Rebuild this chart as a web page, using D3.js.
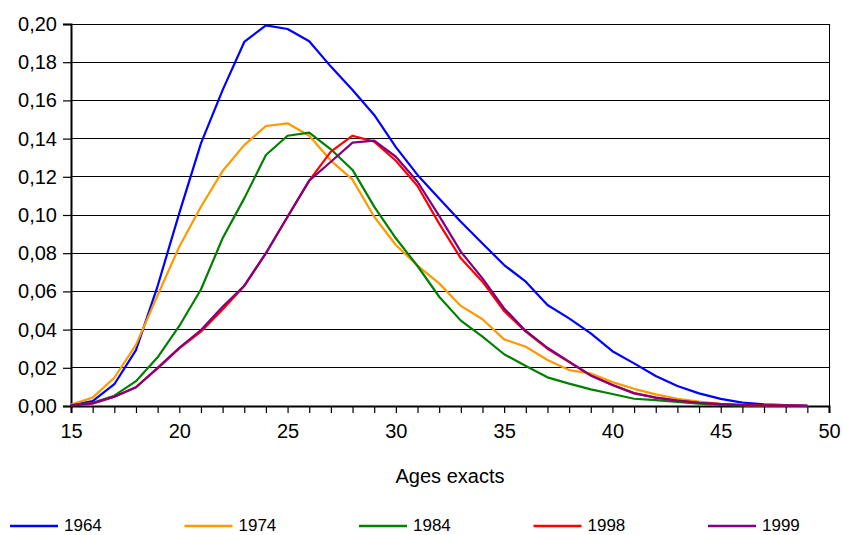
<!DOCTYPE html>
<html>
<head>
<meta charset="utf-8">
<script src="https://cdn.jsdelivr.net/npm/d3@7"></script>
<style>
  body { margin: 0; background: #fff; }
  text { font-family: "Liberation Sans", Arial, Helvetica, sans-serif; fill: #000; }
</style>
</head>
<body>
<div id="chart"></div>
<script>
// ages 15..49
var ages = [15, 16, 17, 18, 19, 20, 21, 22, 23, 24, 25, 26, 27, 28, 29, 30, 31, 32,
  33, 34, 35, 36, 37, 38, 39, 40, 41, 42, 43, 44, 45, 46, 47, 48, 49];

var years = ["1964", "1974", "1984", "1998", "1999"];
var colors = ["#0000ff", "#ff9900", "#008000", "#ff0000", "#800080"];

var v1964 = [0.0005, 0.0026, 0.0114, 0.0293, 0.0628, 0.1010, 0.1375, 0.1654, 0.1906, 0.1993,
  0.1974, 0.1910, 0.1777, 0.1654, 0.1524, 0.1355, 0.1210, 0.1087, 0.0965, 0.0851,
  0.0738, 0.0651, 0.0529, 0.0459, 0.0380, 0.0287, 0.0223, 0.0157, 0.0105, 0.0066,
  0.0037, 0.0018, 0.0009, 0.0005, 0.0002];
var v1974 = [0.0008, 0.0044, 0.0148, 0.0320, 0.0580, 0.0834, 0.1043, 0.1230, 0.1366, 0.1466,
  0.1480, 0.1415, 0.1285, 0.1185, 0.0991, 0.0843, 0.0735, 0.0642, 0.0524, 0.0454,
  0.0349, 0.0310, 0.0241, 0.0188, 0.0170, 0.0125, 0.0090, 0.0061, 0.0038, 0.0023,
  0.0011, 0.0006, 0.0003, 0.0002, 0.0001];
var v1984 = [0.0005, 0.0017, 0.0054, 0.0130, 0.0255, 0.0419, 0.0610, 0.0878, 0.1087, 0.1314,
  0.1415, 0.1431, 0.1344, 0.1236, 0.1044, 0.0878, 0.0733, 0.0572, 0.0447, 0.0363,
  0.0271, 0.0209, 0.0150, 0.0117, 0.0087, 0.0063, 0.0038, 0.0031, 0.0021, 0.0012,
  0.0006, 0.0003, 0.0001, 0.0001, 0.0000];
var v1998 = [0.0003, 0.0014, 0.0049, 0.0098, 0.0197, 0.0302, 0.0389, 0.0505, 0.0628, 0.0800,
  0.0991, 0.1180, 0.1332, 0.1415, 0.1384, 0.1284, 0.1152, 0.0955, 0.0773, 0.0651,
  0.0497, 0.0389, 0.0300, 0.0230, 0.0160, 0.0110, 0.0068, 0.0044, 0.0028, 0.0017,
  0.0010, 0.0005, 0.0003, 0.0002, 0.0001];
var v1999 = [0.0003, 0.0014, 0.0049, 0.0098, 0.0200, 0.0305, 0.0398, 0.0520, 0.0630, 0.0800,
  0.0991, 0.1180, 0.1279, 0.1379, 0.1389, 0.1305, 0.1174, 0.0995, 0.0808, 0.0668,
  0.0511, 0.0393, 0.0305, 0.0232, 0.0160, 0.0110, 0.0066, 0.0044, 0.0028, 0.0017,
  0.0010, 0.0005, 0.0003, 0.0002, 0.0001];

var yTicks = [0, 0.02, 0.04, 0.06, 0.08, 0.10, 0.12, 0.14, 0.16, 0.18, 0.20];
var xTicks = [15, 20, 25, 30, 35, 40, 45, 50];

var seriesValues = [v1964, v1974, v1984, v1998, v1999];

var width = 842, height = 535;
var margin = {top: 24, left: 71, right: 13, bottom: 129};
var plotW = width - margin.left - margin.right;
var plotH = height - margin.top - margin.bottom;

var svg = d3.select("#chart").append("svg")
  .attr("width", width)
  .attr("height", height);

var g = svg.append("g")
  .attr("transform", "translate(" + margin.left + "," + margin.top + ")");

var x = d3.scaleLinear().domain([15, 50]).range([0, plotW]);
var y = d3.scaleLinear().domain([0, 0.2]).range([plotH, 0]);

// gridlines
g.selectAll(".grid")
  .data(yTicks.slice(1))
  .enter().append("line")
  .attr("class", "grid")
  .attr("x1", 0).attr("x2", plotW)
  .attr("y1", d => y(d)).attr("y2", d => y(d))
  .attr("stroke", "#000").attr("stroke-width", 1)
  .attr("shape-rendering", "crispEdges");

// right border
g.append("line")
  .attr("x1", plotW).attr("x2", plotW)
  .attr("y1", 0).attr("y2", plotH)
  .attr("stroke", "#000")
  .attr("shape-rendering", "crispEdges");

var fmt = d => d3.format(".2f")(d).replace(".", ",");

var yAxis = g.append("g")
  .call(d3.axisLeft(y).tickValues(yTicks).tickFormat(fmt).tickSize(8).tickPadding(6));

var xAxis = g.append("g")
  .attr("transform", "translate(0," + plotH + ")")
  .call(d3.axisBottom(x).tickValues(d3.range(15, 51)).tickFormat(d => xTicks.indexOf(d) >= 0 ? d : "").tickSize(7).tickPadding(11));

[yAxis, xAxis].forEach(function(ax) {
  ax.select(".domain").attr("stroke", "#000").attr("stroke-width", 2);
  ax.selectAll(".tick line").attr("stroke", "#000").attr("stroke-width", 1.2);
  ax.selectAll("text").style("font-size", "20px").attr("fill", "#000")
    .style("font-family", "'Liberation Sans', Arial, sans-serif");
});

var line = d3.line()
  .x((d, i) => x(ages[i]))
  .y(d => y(d));

seriesValues.forEach(function(vals, k) {
  g.append("path")
    .datum(vals)
    .attr("fill", "none")
    .attr("stroke", colors[k])
    .attr("stroke-width", 2.2)
    .attr("stroke-linejoin", "round")
    .attr("d", line);
});

svg.append("text")
  .attr("x", margin.left + plotW / 2)
  .attr("y", 483)
  .attr("text-anchor", "middle")
  .style("font-size", "20px")
  .text("Ages exacts");

// legend
var legend = svg.selectAll(".legend")
  .data(years)
  .enter().append("g")
  .attr("class", "legend")
  .attr("transform", (d, i) => "translate(" + (10 + i * 174.5) + ",526)");

legend.append("line")
  .attr("x1", 0).attr("x2", 48)
  .attr("y1", 0).attr("y2", 0)
  .attr("stroke", (d, i) => colors[i])
  .attr("stroke-width", 2.5);

legend.append("text")
  .attr("x", 54)
  .attr("y", 5)
  .style("font-size", "17px")
  .text(d => d);
</script>
</body>
</html>
